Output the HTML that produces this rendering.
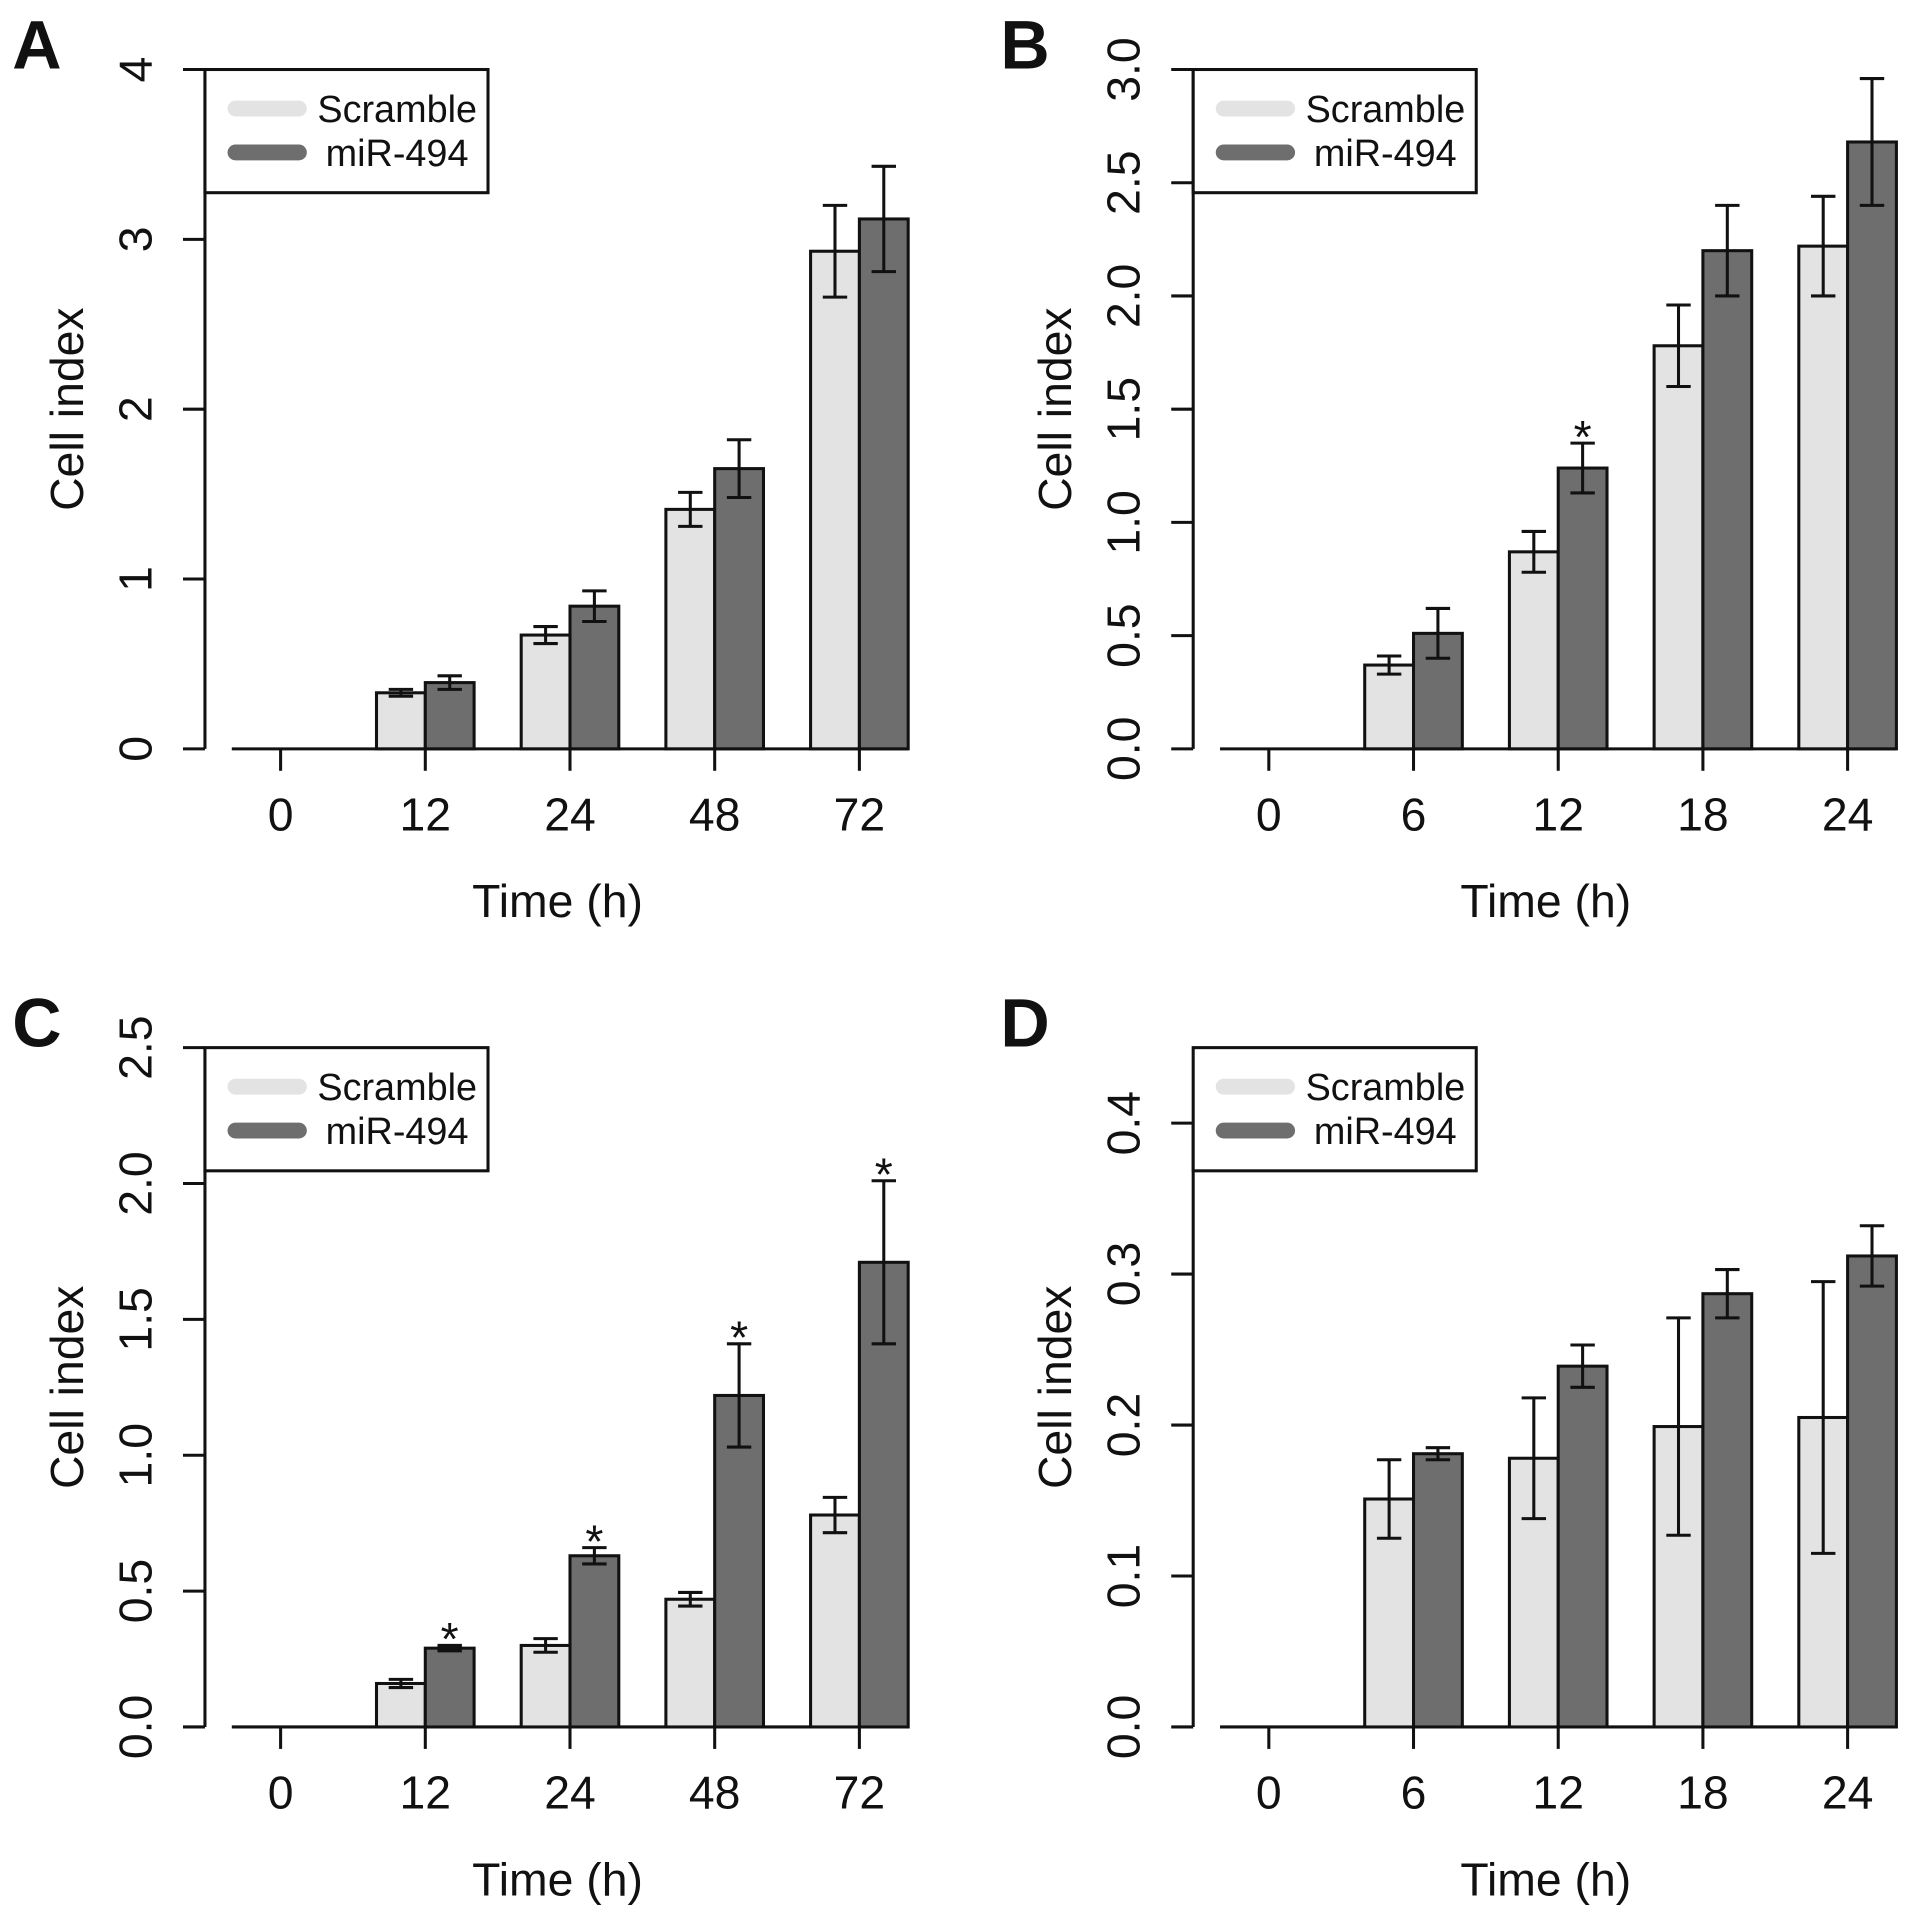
<!DOCTYPE html>
<html><head><meta charset="utf-8"><style>
html,body{margin:0;padding:0;background:#fff}
svg{display:block}
text{font-family:"Liberation Sans",Arial,sans-serif;fill:#111}
</style></head><body>
<svg id="fig" width="1913" height="1916" viewBox="0 0 1568 1571" preserveAspectRatio="none"></svg>
<script>
// Panel data
const catsA = ["0","12","24","48","72"];
const scrA = [0,0.33,0.67,1.41,2.93];
const scrErrA = [0,0.02,0.05,0.1,0.27];
const mirA = [0,0.39,0.84,1.65,3.12];
const mirErrA = [0,0.04,0.09,0.17,0.31];
const starsA = [0,0,0,0,0];
const ticksA = ["0","1","2","3","4"];
const tickValsA = [0,1,2,3,4];

const catsB = ["0","6","12","18","24"];
const scrB = [0,0.37,0.87,1.78,2.22];
const scrErrB = [0,0.04,0.09,0.18,0.22];
const mirB = [0,0.51,1.24,2.2,2.68];
const mirErrB = [0,0.11,0.11,0.2,0.28];
const starsB = [0,0,1,0,0];
const ticksB = ["0.0","0.5","1.0","1.5","2.0","2.5","3.0"];
const tickValsB = [0,0.5,1,1.5,2,2.5,3];

const catsC = ["0","12","24","48","72"];
const scrC = [0,0.16,0.3,0.47,0.78];
const scrErrC = [0,0.015,0.025,0.025,0.065];
const mirC = [0,0.29,0.63,1.22,1.71];
const mirErrC = [0,0.01,0.03,0.19,0.3];
const starsC = [0,1,1,1,1];
const ticksC = ["0.0","0.5","1.0","1.5","2.0","2.5"];
const tickValsC = [0,0.5,1,1.5,2,2.5];

const catsD = ["0","6","12","18","24"];
const scrD = [0,0.151,0.178,0.199,0.205];
const scrErrD = [0,0.026,0.04,0.072,0.09];
const mirD = [0,0.181,0.239,0.287,0.312];
const mirErrD = [0,0.004,0.014,0.016,0.02];
const starsD = [0,0,0,0,0];
const ticksD = ["0.0","0.1","0.2","0.3","0.4"];
const tickValsD = [0,0.1,0.2,0.3,0.4];

const NS="http://www.w3.org/2000/svg";
const svg=document.getElementById('fig');
function mk(tag,attrs,parent,txt){const e=document.createElementNS(NS,tag);for(const k in attrs)e.setAttribute(k,attrs[k]);if(txt!==undefined)e.textContent=txt;parent.appendChild(e);return e;}

function panel(letter,ox,oy,cats,scr,scrE,mir,mirE,stars,tickLbl,tickVal,ymax){
  const g=mk('g',{transform:`translate(${ox},${oy})`},svg);
  
  
  const y0=614, ytop=57, axX=168;
  const y=v=>y0-(v/ymax)*(y0-ytop);
  const xc=i=>230+i*118.6;
  const bw=40;
  const lt=mk('text',{x:10,y:56,'font-size':56,'font-weight':'bold'},g,letter);
  
  
  const topTick=tickVal[tickVal.length-1];
  mk('line',{x1:axX,x2:axX,y1:y(0),y2:y(topTick),stroke:'#111','stroke-width':2.5},g);
  tickVal.forEach((v,i)=>{
    mk('line',{x1:axX-18,x2:axX,y1:y(v),y2:y(v),stroke:'#111','stroke-width':2.5},g);
    const t=mk('text',{x:0,y:0,'font-size':38,'text-anchor':'middle',transform:`translate(${axX-44},${y(v)}) rotate(-90)`},g,tickLbl[i]);
    
    
  });
  const yt=mk('text',{'font-size':38,'text-anchor':'middle',transform:`translate(${axX-100},${(y0+ytop)/2}) rotate(-90)`},g,'Cell index');
  
  
  mk('line',{x1:xc(0)-bw,x2:xc(cats.length-1)+bw,y1:y0,y2:y0,stroke:'#111','stroke-width':2.5},g);
  cats.forEach((c,i)=>{
    const cx=xc(i);
    const b1=mk('rect',{x:cx-bw,y:y(scr[i]),width:bw,height:y0-y(scr[i]),fill:'#e3e3e3',stroke:'#111','stroke-width':2.5},g);
    
    
    const b2=mk('rect',{x:cx,y:y(mir[i]),width:bw,height:y0-y(mir[i]),fill:'#6e6e6e',stroke:'#111','stroke-width':2.5},g);
    
    
    [[cx-bw/2,scr[i],scrE[i]],[cx+bw/2,mir[i],mirE[i]]].forEach(([ex,v,e])=>{
      if(e<=0)return;
      const eg=mk('g',{stroke:'#111','stroke-width':2.5},g);
      
      
      mk('line',{x1:ex,x2:ex,y1:y(v-e),y2:y(v+e)},eg);
      mk('line',{x1:ex-10,x2:ex+10,y1:y(v-e),y2:y(v-e)},eg);
      mk('line',{x1:ex-10,x2:ex+10,y1:y(v+e),y2:y(v+e)},eg);
    });
    if(stars[i]){
      const s=mk('text',{x:cx+bw/2,y:y(mir[i]+mirE[i])+8,'font-size':38,'text-anchor':'middle'},g,'*');
      
      
    }
    mk('line',{x1:cx,x2:cx,y1:y0,y2:y0+18,stroke:'#111','stroke-width':2.5},g);
    const xl=mk('text',{x:cx,y:y0+67,'font-size':38,'text-anchor':'middle'},g,c);
    
    
  });
  const xt=mk('text',{x:457,y:y0+138,'font-size':38,'text-anchor':'middle'},g,'Time (h)');
  
  
  const lg=mk('g',{},g);
  
  
  mk('rect',{x:axX,y:57,width:232,height:101,fill:'#fff',stroke:'#111','stroke-width':2.5},lg);
  mk('line',{x1:193,x2:245,y1:89,y2:89,stroke:'#e3e3e3','stroke-width':13,'stroke-linecap':'round'},lg);
  mk('line',{x1:193,x2:245,y1:125,y2:125,stroke:'#6e6e6e','stroke-width':13,'stroke-linecap':'round'},lg);
  const l1=mk('text',{x:391,y:100,'font-size':31,'text-anchor':'end'},lg,'Scramble');
  
  
  const l2=mk('text',{x:384,y:136,'font-size':31,'text-anchor':'end'},lg,'miR-494');
  
  
}
panel('A',0,0,catsA,scrA,scrErrA,mirA,mirErrA,starsA,ticksA,tickValsA,4);
panel('B',810,0,catsB,scrB,scrErrB,mirB,mirErrB,starsB,ticksB,tickValsB,3);
panel('C',0,802,catsC,scrC,scrErrC,mirC,mirErrC,starsC,ticksC,tickValsC,2.5);
panel('D',810,802,catsD,scrD,scrErrD,mirD,mirErrD,starsD,ticksD,tickValsD,0.45);
</script>
</body></html>
